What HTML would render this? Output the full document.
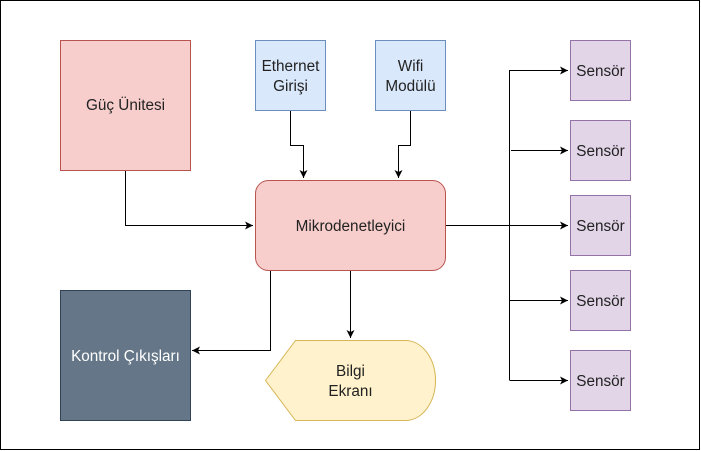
<!DOCTYPE html>
<html><head><meta charset="utf-8"><style>
html,body{margin:0;padding:0;background:#fff;}
svg{display:block;}
text{font-family:"Liberation Sans",Arial,sans-serif;font-size:15.3px;fill:#222;text-anchor:middle;}
</style></head><body>
<svg width="701" height="451" viewBox="0 0 701 451" xmlns="http://www.w3.org/2000/svg">
<defs><marker id="a" markerWidth="10" markerHeight="10" refX="8" refY="5" orient="auto" markerUnits="userSpaceOnUse"><path d="M0,1 L8,5 L0,9 L2,5 Z" fill="#000"/></marker></defs>
<rect x="0.5" y="0.5" width="699" height="449" fill="#fff" stroke="#000"/>
<g fill="none" stroke="#000" stroke-width="1">
<path d="M125.5,170 V225.5 H253" marker-end="url(#a)"/>
<path d="M290.5,110 V145.5 H303.5 V178" marker-end="url(#a)"/>
<path d="M410.5,110 V145.5 H398.5 V178" marker-end="url(#a)"/>
<path d="M445,225.5 H568" marker-end="url(#a)"/>
<path d="M509.5,380 V70" />
<path d="M509.5,70.5 H568" marker-end="url(#a)"/>
<path d="M511,150.5 H568" marker-end="url(#a)"/>
<path d="M509.5,300.5 H568" marker-end="url(#a)"/>
<path d="M509.5,380.5 H568" marker-end="url(#a)"/>
<path d="M350.5,270 V338" marker-end="url(#a)"/>
<path d="M270.5,270 V350.5 H192" marker-end="url(#a)"/>
</g>
<rect x="60.5" y="40.5" width="130" height="130" fill="#f8cecc" stroke="#b85450"/>
<text x="125.5" y="110">Güç Ünitesi</text>
<rect x="255.5" y="40.5" width="70" height="70" fill="#dae8fc" stroke="#6c8ebf"/>
<text x="290.5" y="71">Ethernet</text><text x="290.5" y="91">Girişi</text>
<rect x="375.5" y="40.5" width="70" height="70" fill="#dae8fc" stroke="#6c8ebf"/>
<text x="410.5" y="71">Wifi</text><text x="410.5" y="91">Modülü</text>
<rect x="255.5" y="180.5" width="190" height="90" rx="13" fill="#f8cecc" stroke="#b85450"/>
<text x="350.5" y="231">Mikrodenetleyici</text>
<rect x="60.5" y="290.5" width="130" height="130" fill="#647687" stroke="#314354"/>
<text x="125.5" y="361" style="fill:#fff">Kontrol Çıkışları</text>
<path d="M265.5,380.5 L295.5,340.5 H405.5 A30,40 0 0 1 405.5,420.5 H295.5 Z" fill="#fff2cc" stroke="#d6b656"/>
<text x="350.5" y="376">Bilgi</text><text x="350.5" y="396">Ekranı</text>
<g fill="#e1d5e7" stroke="#9673a6">
<rect x="570.5" y="40.5" width="60" height="60"/>
<rect x="570.5" y="120.5" width="60" height="60"/>
<rect x="570.5" y="195.5" width="60" height="60"/>
<rect x="570.5" y="270.5" width="60" height="60"/>
<rect x="570.5" y="350.5" width="60" height="60"/>
</g>
<text x="600.5" y="76">Sensör</text>
<text x="600.5" y="156">Sensör</text>
<text x="600.5" y="231">Sensör</text>
<text x="600.5" y="306">Sensör</text>
<text x="600.5" y="386">Sensör</text>
</svg>
</body></html>
